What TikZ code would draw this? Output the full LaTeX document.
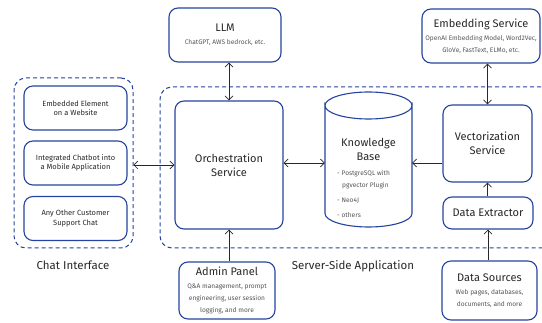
\documentclass[tikz,border=0pt]{standalone}
\usepackage{fontspec}
\setmainfont{Fira Sans}
\usetikzlibrary{arrows.meta,calc}
\definecolor{frameblue}{RGB}{38,68,158}
\definecolor{inkgray}{RGB}{40,40,40}
\definecolor{notegray}{RGB}{85,85,85}
\newcommand{\ttl}[1]{{\fontsize{11}{12.5}\selectfont #1}}
\newcommand{\nte}[1]{{\fontsize{6.6}{8}\selectfont\color{notegray}#1}}
\tikzset{
  box/.style={draw=frameblue, line width=1.1pt, rounded corners=9pt, fill=white,
    align=center, text=inkgray, inner sep=2pt},
  chatbox/.style={box, minimum width=103pt, minimum height=44pt,
    font=\fontsize{7.5}{9.5}\selectfont},
  frame/.style={draw=frameblue, line width=1pt, dashed, dash pattern=on 4pt off 3pt,
    rounded corners=12pt},
  link/.style={draw=inkgray, line width=0.7pt, -{Straight Barb[length=4pt,width=8pt]}},
  dlink/.style={link, {Straight Barb[length=4pt,width=8pt]}-{Straight Barb[length=4pt,width=8pt]}},
  caption/.style={text=inkgray, font=\fontsize{11.5}{13}\selectfont}
}
\begin{document}
\begin{tikzpicture}[x=1pt,y=-1pt]
\useasboundingbox (0,0) rectangle (542,323);

% dashed group frames
\node[frame, minimum width=119pt, minimum height=170pt] (chat) at (73.5,163) {};
\draw[frame] (548,87) -- (160,87) -- (160,248) -- (548,248);

% chat interface entries
\node[chatbox] (web) at (75.5,108) {Embedded Element\\on a Website};
\node[chatbox] (mobile) at (75.5,163) {Integrated Chatbot into\\a Mobile Application};
\node[chatbox] (other) at (75.5,218.5) {Any Other Customer\\Support Chat};

% services
\node[box, minimum width=112pt, minimum height=54pt] (llm) at (225,35)
  {\ttl{LLM}\\[1pt]\nte{ChatGPT, AWS bedrock, etc.}};
\node[box, minimum width=118pt, minimum height=54pt] (embed) at (481,36)
  {\ttl{Embedding Service}\\[1pt]\nte{OpenAI Embedding Model, Word2Vec,}\\\nte{GloVe, FastText, ELMo, etc.}};
\node[box, minimum width=108pt, minimum height=128pt] (orch) at (229,165)
  {\ttl{Orchestration}\\[2pt]\ttl{Service}};
\node[box, minimum width=89pt, minimum height=77pt] (vec) at (487.5,143.5)
  {\ttl{Vectorization}\\[2pt]\ttl{Service}};
\node[box, minimum width=90pt, minimum height=32pt] (extract) at (488,213)
  {\ttl{Data Extractor}};
\node[box, minimum width=95pt, minimum height=59pt] (sources) at (489.5,290.5)
  {\ttl{Data Sources}\\[1pt]\nte{Web pages, databases,}\\\nte{documents, and more}};
\node[box, minimum width=96pt, minimum height=57pt] (admin) at (227,290.5)
  {\ttl{Admin Panel}\\[1pt]\nte{Q\&A management, prompt}\\\nte{engineering, user session}\\\nte{logging, and more}};

% knowledge base cylinder
\node[minimum width=87pt, minimum height=135pt, inner sep=0pt] (kb) at (368.5,159.5) {};
\draw[draw=frameblue, line width=1.1pt, fill=white]
  (325,105.5) -- (325,213.5) arc[start angle=180, end angle=360, x radius=43.5pt, y radius=13.5pt]
  -- (412,105.5) arc[start angle=0, end angle=-180, x radius=43.5pt, y radius=13.5pt] -- cycle;
\draw[draw=frameblue, line width=1.1pt]
  (325,105.5) arc[start angle=180, end angle=0, x radius=43.5pt, y radius=13.5pt];
\node[text=inkgray, align=center] (kbtitle) at (368.5,149) {\ttl{Knowledge}\\[2pt]\ttl{Base}};
\node[anchor=north west, align=left, inner sep=0pt] (kbnotes) at (337,170)
  {\nte{- PostgreSQL with}\\\nte{\hspace{5pt}pgvector Plugin}\\[3pt]\nte{- Neo4J}\\[3pt]\nte{- others}};

% group captions
\node[caption] (chatcap) at (73,265) {Chat Interface};
\node[caption] (servercap) at (353,266) {Server-Side Application};

% connectors
\coordinate (row) at (0,163);
\draw[dlink] (chat.east |- orch.west) -- (orch.west);
\draw[dlink] (llm.south -| orch.north) -- (orch.north);
\draw[dlink] (orch.east |- row) -- (kb.west |- row);
\draw[link] (vec.west |- row) -- (kb.east |- row);
\draw[dlink] (embed.south -| vec.north) -- (vec.north);
\draw[link] (extract.north -| vec.south) -- (vec.south);
\draw[link] (sources.north -| extract.south) -- (extract.south);
\draw[link] (admin.north -| orch.south) -- (orch.south);
\end{tikzpicture}
\end{document}
